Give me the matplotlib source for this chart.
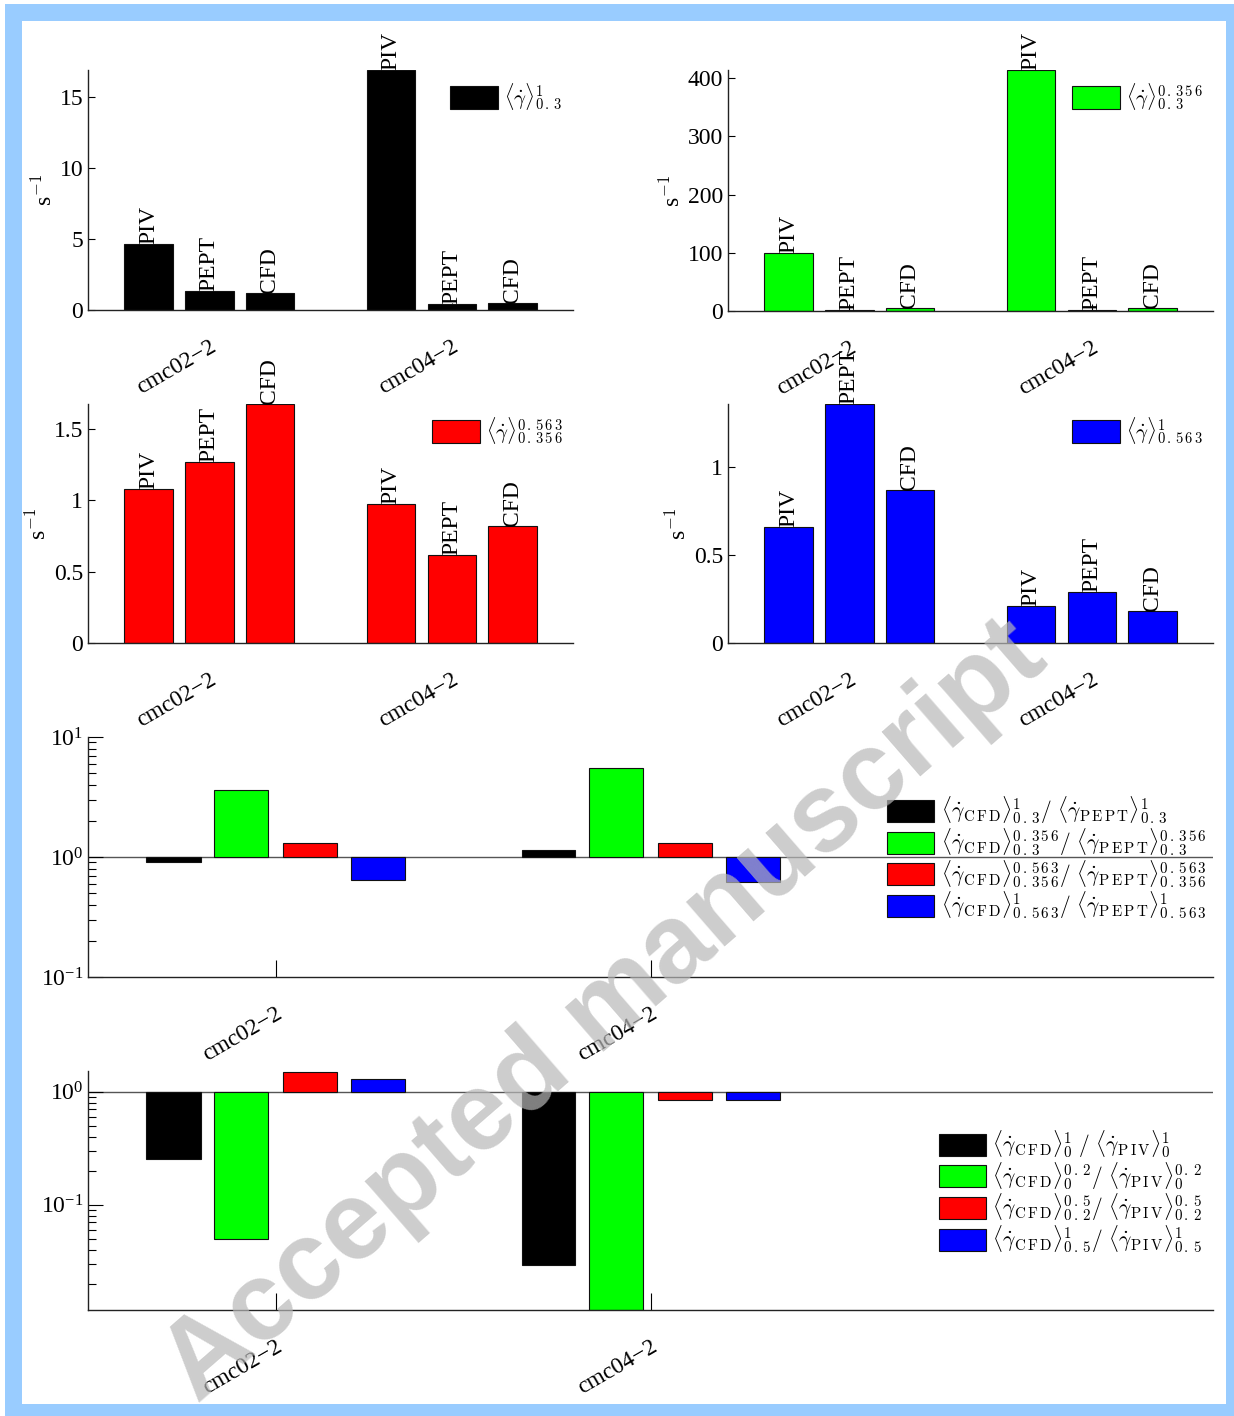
import matplotlib
matplotlib.use("Agg")
import matplotlib.pyplot as plt
import numpy as np
from matplotlib.patches import Rectangle
from matplotlib.ticker import FuncFormatter, NullFormatter

plt.rcParams['font.family'] = ['Liberation Serif', 'DejaVu Serif']
plt.rcParams['mathtext.fontset'] = 'cm'

# ---------------- data ----------------
groups = ["cmc02\u22122", "cmc04\u22122"]
methods = ["PIV", "PEPT", "CFD"]

avg_03_1 = [[4.65, 1.34, 1.20], [16.9, 0.42, 0.49]]
avg_03_0356 = [[99.6, 1.5, 6.0], [414.0, 1.0, 5.5]]
avg_0356_0563 = [[1.08, 1.27, 1.675], [0.974, 0.617, 0.82]]
avg_0563_1 = [[0.66, 1.358, 0.87], [0.21, 0.29, 0.18]]

ratio_cfd_pept = [[0.91, 3.6, 1.31, 0.64], [1.14, 5.5, 1.31, 0.62]]
ratio_cfd_piv = [[0.255, 0.05, 1.5, 1.3], [0.0295, 0.0118, 0.85, 0.85]]

top_bounds = [("0.3", "1"), ("0.3", "0.356"), ("0.356", "0.563"), ("0.563", "1")]
pept_bounds = [("0.3", "1"), ("0.3", "0.356"), ("0.356", "0.563"), ("0.563", "1")]
piv_bounds = [("0", "1"), ("0", "0.2"), ("0.2", "0.5"), ("0.5", "1")]

colors = ["#000000", "#00ff00", "#ff0000", "#0000ff"]


def sp(s):
    return r"\,".join(s)


def avg_label(lo, hi):
    return r"$\langle\dot{\gamma}\rangle^{%s}_{%s}$" % (sp(hi), sp(lo))


def ratio_label(lo, hi, a, b, extra=""):
    return (r"$\langle\dot{\gamma}_{\mathrm{%s}}\rangle^{%s}_{%s}%s/\ "
            r"\langle\dot{\gamma}_{\mathrm{%s}}\rangle^{%s}_{%s}$"
            % (sp(a), sp(hi), sp(lo), extra, sp(b), sp(hi), sp(lo)))


top_legends = [avg_label(lo, hi) for lo, hi in top_bounds]
pept_legend = [ratio_label(lo, hi, "CFD", "PEPT") for lo, hi in pept_bounds]
piv_legend = [ratio_label(lo, hi, "CFD", "PIV", r"\ " if i == 0 else "")
              for i, (lo, hi) in enumerate(piv_bounds)]

W, H = 1234, 1416
fig = plt.figure(figsize=(W / 100, H / 100), dpi=100)

# border
fig.patches.append(Rectangle((5 / W, 0), 1 - 5 / W, 1 - 4 / H, transform=fig.transFigure,
                             facecolor="#99ccff", edgecolor="none", zorder=-10))
fig.patches.append(Rectangle((22 / W, 12 / H), (1226 - 22) / W, (1404 - 21) / H,
                             transform=fig.transFigure, facecolor="white", edgecolor="none", zorder=-9))


def add_ax(left, top, w, h):
    return fig.add_axes([left / W, 1 - (top + h) / H, w / W, h / H])


TICKFS = 17
LEGFS = 15
LOGLEGFS = 15.5


def style(ax):
    for s in ["top", "right"]:
        ax.spines[s].set_visible(False)
    for s in ["left", "bottom"]:
        ax.spines[s].set_linewidth(1.0)
        ax.spines[s].set_color("#222222")
    ax.tick_params(direction="in", labelsize=TICKFS, length=5, width=0.8)
    ax.tick_params(axis="x", pad=19)
    ax.patch.set_alpha(0)


def top_chart(ax, data, color, legend, yticks, ylim, legx, ylabel=True):
    offs = [-0.25, 0.0, 0.25]
    xs = np.arange(1, len(groups) + 1)
    first = True
    for gi, g in enumerate(groups):
        for mi, m in enumerate(methods):
            v = data[gi][mi]
            ax.bar(xs[gi] + offs[mi], v, width=0.2, color=color, edgecolor="#111111",
                   linewidth=0.8, label=legend if first else None, zorder=2)
            first = False
            ax.text(xs[gi] + offs[mi], v, m, rotation=90, ha="center", va="bottom",
                    fontsize=TICKFS, zorder=3)
    ax.set_xlim(0.5, 2.5)
    ax.set_ylim(*ylim)
    ax.set_yticks(yticks)
    ax.yaxis.set_major_formatter(FuncFormatter(lambda v, p: "%g" % v))
    ax.set_xticks(xs)
    ax.set_xticklabels(groups, rotation=30, ha="right", rotation_mode="anchor")
    if ylabel:
        ax.set_ylabel(r"s$^{-1}$", fontsize=TICKFS, labelpad=2)
    style(ax)
    ax.legend(loc="upper left", bbox_to_anchor=(legx, 0.955), frameon=False, fontsize=LEGFS,
              borderpad=0, borderaxespad=0, handlelength=2.3, handleheight=1.3,
              handletextpad=0.3)


ax1 = add_ax(88, 70, 485, 240)
top_chart(ax1, avg_03_1, colors[0], top_legends[0], [0, 5, 10, 15], (0, 16.9), 0.746)
ax2 = add_ax(728, 70, 485, 241)
top_chart(ax2, avg_03_0356, colors[1], top_legends[1], [0, 100, 200, 300, 400], (0, 414), 0.709)
ax3 = add_ax(88, 404, 485, 239)
top_chart(ax3, avg_0356_0563, colors[2], top_legends[2], [0, 0.5, 1, 1.5], (0, 1.675), 0.709)
ax4 = add_ax(728, 404, 485, 239)
top_chart(ax4, avg_0563_1, colors[3], top_legends[3], [0, 0.5, 1], (0, 1.358), 0.709)


def log_chart(ax, data, legend, ylim, legx):
    offs = [-0.272, -0.0907, 0.0907, 0.272]
    xs = np.arange(1, len(groups) + 1)
    for ci in range(4):
        vals = np.array([data[gi][ci] for gi in range(len(groups))])
        ax.bar(xs + offs[ci], vals - 1, bottom=1, width=0.144, color=colors[ci],
               edgecolor="#111111", linewidth=0.8, label=legend[ci], zorder=2)
    ax.set_yscale("log")
    ax.axhline(1, color="#555555", linewidth=1.0, zorder=1)
    ax.set_xlim(0.5, 3.5)
    ax.set_ylim(*ylim)
    ax.set_xticks(xs)
    ax.set_xticklabels(groups, rotation=30, ha="right", rotation_mode="anchor")
    style(ax)
    ax.tick_params(axis="y", which="major", length=11)
    ax.tick_params(axis="y", which="minor", length=6, direction="in", width=0.8)
    ax.tick_params(axis="x", length=12)
    ax.yaxis.set_minor_formatter(NullFormatter())
    ax.legend(loc="upper left", bbox_to_anchor=(legx, 0.76), frameon=False, fontsize=LOGLEGFS,
              borderpad=0, borderaxespad=0, handlelength=2.2, handleheight=1.2,
              handletextpad=0.3, labelspacing=0.0)


ax5 = add_ax(88, 737, 1125, 240)
log_chart(ax5, ratio_cfd_pept, pept_legend, (0.1, 10), 0.710)
ax6 = add_ax(88, 1071, 1125, 239)
log_chart(ax6, ratio_cfd_piv, piv_legend, (0.0118, 1.52), 0.756)

# watermark
fig.text(605 / W, 1 - 1012 / H, "Accepted manuscript", family="Liberation Sans",
         fontsize=80, fontweight="bold", color="#b8b8b8", alpha=0.7, rotation=41,
         ha="center", va="center", zorder=10)

fig.savefig("out.png", dpi=100)
